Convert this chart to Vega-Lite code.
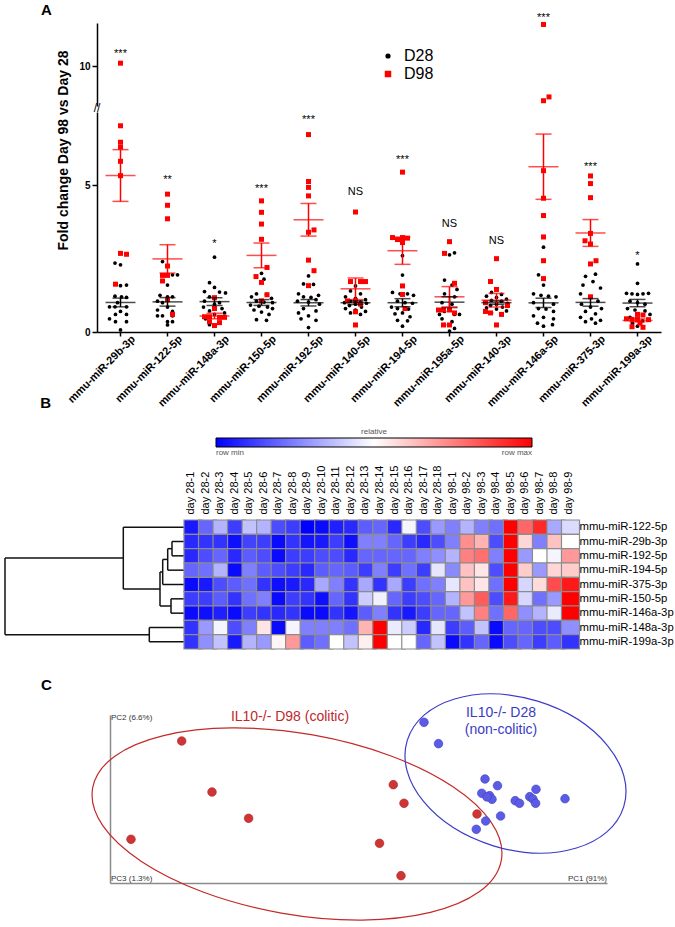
{
"$schema":"https://vega.github.io/schema/vega-lite/v6.json",
"background":"white",
"padding":{"left":4,"top":3,"right":0,"bottom":0},
"config":{"view":{"stroke":null},"font":"Liberation Sans","axis":{"labelFont":"Liberation Sans","titleFont":"Liberation Sans","grid":false},"legend":{"labelFont":"Liberation Sans","titleFont":"Liberation Sans"},"title":{"font":"Liberation Sans","color":"black"}},
"datasets":{
"a":[
{"m":"mmu-miR-29b-3p","g":"D28","v":[2.35,2.29,1.6,1.58,1.22,1.2,1.18,1.0,0.86,0.86,0.86,0.7,0.6,0.6,0.45,0.35,0.35,0.07],"s":[-1.1,0,1.2,0,-1.1,0.2,1.2,-0.6,-2.2,-1.1,1.2,0,-1,1.2,-2.2,-1,1.2,0]},
{"m":"mmu-miR-29b-3p","g":"D98","v":[10.1,7.03,6.47,6.3,5.82,5.33,2.68,2.65,1.63],"s":[0,0,0,0,0,0,0,1.2,-1]},
{"m":"mmu-miR-122-5p","g":"D28","v":[2.4,1.95,1.95,1.6,1.25,1.2,1.2,1.05,1.0,0.85,0.75,0.7,0.55,0.55,0.55,0.35,0.35,0.24],"s":[-1,1,2,0,-1.5,0,1,-2,-1,0,-2,1,-2,-1,1,0,1,0]},
{"m":"mmu-miR-122-5p","g":"D98","v":[4.7,4.32,3.86,2.25,1.93,1.93,1.74,1.1,0.6],"s":[0,0,0,0,-1,0,-1,0,1]},
{"m":"mmu-miR-148a-3p","g":"D28","v":[2.55,1.68,1.52,1.38,1.36,1.33,1.2,1.05,1.0,0.95,0.85,0.8,0.72,0.65,0.6,0.45,0.3,0.25],"s":[0,-1,0,-2,1,2.2,-1,-2,1,0,-2.2,1.5,-1,2,0,-1.8,1,-1]},
{"m":"mmu-miR-148a-3p","g":"D98","v":[1.17,0.8,0.52,0.52,0.5,0.5,0.35,0.32,0.22],"s":[0,0,-2,-1,1,2,-1,1,0]},
{"m":"mmu-miR-150-5p","g":"D28","v":[2.0,1.8,1.3,1.28,1.2,1.15,1.05,1.02,1.0,0.92,0.88,0.85,0.8,0.75,0.68,0.6,0.42,0.4],"s":[0,0.5,-1,1,-2,2,-1,0.5,2.2,-2.2,-0.5,1.2,2.2,-1.5,0,1.5,-1,1]},
{"m":"mmu-miR-150-5p","g":"D98","v":[4.47,4.08,3.68,3.16,2.2,1.89,1.69,1.27,1.06],"s":[0,0,0,0,1.1,-1.1,0,1.1,0]},
{"m":"mmu-miR-192-5p","g":"D28","v":[1.91,1.64,1.62,1.3,1.25,1.2,1.18,1.1,1.05,1.02,0.95,0.8,0.72,0.65,0.55,0.45,0.4,0.15],"s":[0,-1,1,-2,2,-1,0.5,1.5,-2.2,0,2.2,-1,1.5,-2,0,-1.5,1.5,0]},
{"m":"mmu-miR-192-5p","g":"D98","v":[6.73,5.13,4.93,4.64,3.48,3.4,2.45,2.09,1.58],"s":[0,0,0,0,1.1,0,0,1.1,0]},
{"m":"mmu-miR-140-5p","g":"D28","v":[1.57,1.4,1.3,1.2,1.15,1.1,1.05,1.02,1.0,0.98,0.95,0.9,0.85,0.8,0.75,0.7,0.65,0.6],"s":[0,-1,1,-2,0,2,-1,1,-2.2,2.2,0,-1.2,1.2,-2,0,2,-1,1]},
{"m":"mmu-miR-140-5p","g":"D98","v":[4.09,1.72,1.72,1.72,1.06,1.06,0.95,0.69,0.24],"s":[0,-1,1,2,-1.6,0,1,0,0]},
{"m":"mmu-miR-194-5p","g":"D28","v":[2.6,1.94,1.35,1.3,1.3,1.25,1.05,1.0,0.98,0.85,0.8,0.78,0.62,0.65,0.52,0.4,0.38,0.2],"s":[0,0,-2,-0.5,1,2.2,-1,0.5,2,-2.2,-1,1.2,-1.5,0,1.5,-1,1,0]},
{"m":"mmu-miR-194-5p","g":"D98","v":[5.45,3.22,3.15,3.22,3.2,3.05,1.57,1.28,0.8],"s":[0,-2,-1,0,1,0,0,0,0.5]},
{"m":"mmu-miR-195a-5p","g":"D28","v":[2.7,2.63,1.77,1.6,1.45,1.3,1.2,1.0,0.95,0.6,0.6,0.7,0.6,0.45,0.35,0.25,0.12,0.03],"s":[1,0,-1,0.5,1.5,-1,1,-1.5,0.5,-2,2,-1,1,-1.5,0.5,-1,1,0]},
{"m":"mmu-miR-195a-5p","g":"D98","v":[3.08,2.68,1.66,0.75,0.75,0.75,0.65,0.24,0.24],"s":[0,-1,1,-2.2,-1.2,0,1,-1.2,0]},
{"m":"mmu-miR-140-3p","g":"D28","v":[1.45,1.35,1.28,1.22,1.18,1.12,1.08,1.05,1.02,0.98,0.95,0.9,0.85,0.82,0.78,0.72,0.65,0.6],"s":[0,-1,1,-2,0,2,-1,1,-2.2,2.2,0,-1.2,1.2,-2,0,2,-1,1]},
{"m":"mmu-miR-140-3p","g":"D98","v":[2.5,1.72,1.45,1.0,0.9,0.7,0.65,0.6,0.24],"s":[0,-1.2,0,-2.2,2.2,-2.2,-1.2,1,0]},
{"m":"mmu-miR-146a-5p","g":"D28","v":[2.89,1.95,1.6,1.3,1.25,1.22,1.2,1.0,0.95,0.8,0.78,0.7,0.55,0.5,0.45,0.3,0.25,0.2],"s":[0,-1,0,-2,-0.5,1,2.5,-2,2,-1,0.5,2,-2,0,2,-1.2,1.8,0]},
{"m":"mmu-miR-146a-5p","g":"D98","v":[11.42,8.95,8.82,5.5,4.56,3.97,3.24,2.43,1.82],"s":[0,1.1,0,0,0,0,0,0,0]},
{"m":"mmu-miR-375-3p","g":"D28","v":[1.97,1.9,1.72,1.6,1.5,1.3,1.2,1.05,0.95,0.85,0.8,0.7,0.62,0.5,0.45,0.4,0.35,0.3],"s":[1,-1,0.5,-1.5,2,-2,0,1.5,-1.8,0,2.2,-1,1,-2,0.2,2,-1,1]},
{"m":"mmu-miR-375-3p","g":"D98","v":[5.32,5.06,4.58,3.36,3.11,3.0,2.43,2.32,1.2],"s":[0,0,0,0,-1.1,0,1.1,0,0]},
{"m":"mmu-miR-199a-3p","g":"D28","v":[2.32,1.66,1.32,1.3,1.28,1.3,1.32,1.05,1.0,0.95,0.8,0.75,0.72,0.6,0.5,0.38,0.3,0.2],"s":[0,0,-2.2,-1.1,0,1.1,2.2,-1.5,0,1.5,-2,-0.5,1.5,2.5,-1.5,1,-1,0]},
{"m":"mmu-miR-199a-3p","g":"D98","v":[0.6,0.58,0.45,0.43,0.43,0.42,0.3,0.18,0.16],"s":[0,1.1,-2.2,-1.1,0,2.2,0.5,-1.1,1.1]}
],
"ann":[
{"m":"mmu-miR-29b-3p","t":"***","y":10.52},
{"m":"mmu-miR-122-5p","t":"**","y":5.27},
{"m":"mmu-miR-148a-3p","t":"*","y":3.11},
{"m":"mmu-miR-150-5p","t":"***","y":4.98},
{"m":"mmu-miR-192-5p","t":"***","y":7.32},
{"m":"mmu-miR-140-5p","t":"NS","y":4.76},
{"m":"mmu-miR-194-5p","t":"***","y":5.95},
{"m":"mmu-miR-195a-5p","t":"NS","y":3.67},
{"m":"mmu-miR-140-3p","t":"NS","y":3.11},
{"m":"mmu-miR-146a-5p","t":"***","y":11.75},
{"m":"mmu-miR-375-3p","t":"***","y":5.73},
{"m":"mmu-miR-199a-3p","t":"*","y":2.68}
],
"hm":[
{"r":"mmu-miR-122-5p","c":["day 28-1","day 28-2","day 28-3","day 28-4","day 28-5","day 28-6","day 28-7","day 28-8","day 28-9","day 28-10","day 28-11","day 28-12","day 28-13","day 28-14","day 28-15","day 28-16","day 28-17","day 28-18","day 98-1","day 98-2","day 98-3","day 98-4","day 98-5","day 98-6","day 98-7","day 98-8","day 98-9"],"v":[0.05,0.2,0.35,0.12,0.38,0.35,0.15,0.12,0.0,0.02,0.06,0.08,0.18,0.2,0.08,0.48,0.15,0.3,0.25,0.35,0.25,0.22,1.0,0.8,0.92,0.33,0.43]},
{"r":"mmu-miR-29b-3p","c":["day 28-1","day 28-2","day 28-3","day 28-4","day 28-5","day 28-6","day 28-7","day 28-8","day 28-9","day 28-10","day 28-11","day 28-12","day 28-13","day 28-14","day 28-15","day 28-16","day 28-17","day 28-18","day 98-1","day 98-2","day 98-3","day 98-4","day 98-5","day 98-6","day 98-7","day 98-8","day 98-9"],"v":[0.08,0.1,0.1,0.03,0.13,0.12,0.02,0.1,0.04,0.05,0.12,0.03,0.25,0.25,0.2,0.12,0.08,0.15,0.25,0.72,0.65,0.15,1.0,0.58,0.25,0.62,0.5]},
{"r":"mmu-miR-192-5p","c":["day 28-1","day 28-2","day 28-3","day 28-4","day 28-5","day 28-6","day 28-7","day 28-8","day 28-9","day 28-10","day 28-11","day 28-12","day 28-13","day 28-14","day 28-15","day 28-16","day 28-17","day 28-18","day 98-1","day 98-2","day 98-3","day 98-4","day 98-5","day 98-6","day 98-7","day 98-8","day 98-9"],"v":[0.08,0.15,0.2,0.08,0.18,0.15,0.02,0.12,0.12,0.15,0.15,0.08,0.2,0.2,0.2,0.2,0.25,0.28,0.35,0.75,0.78,0.25,1.0,0.3,0.5,0.48,0.7]},
{"r":"mmu-miR-194-5p","c":["day 28-1","day 28-2","day 28-3","day 28-4","day 28-5","day 28-6","day 28-7","day 28-8","day 28-9","day 28-10","day 28-11","day 28-12","day 28-13","day 28-14","day 28-15","day 28-16","day 28-17","day 28-18","day 98-1","day 98-2","day 98-3","day 98-4","day 98-5","day 98-6","day 98-7","day 98-8","day 98-9"],"v":[0.2,0.22,0.35,0.02,0.25,0.18,0.15,0.12,0.08,0.18,0.2,0.18,0.12,0.25,0.12,0.22,0.12,0.45,0.27,0.62,0.55,0.15,1.0,0.6,0.3,0.58,0.6]},
{"r":"mmu-miR-375-3p","c":["day 28-1","day 28-2","day 28-3","day 28-4","day 28-5","day 28-6","day 28-7","day 28-8","day 28-9","day 28-10","day 28-11","day 28-12","day 28-13","day 28-14","day 28-15","day 28-16","day 28-17","day 28-18","day 98-1","day 98-2","day 98-3","day 98-4","day 98-5","day 98-6","day 98-7","day 98-8","day 98-9"],"v":[0.02,0.05,0.15,0.18,0.22,0.1,0.03,0.05,0.08,0.33,0.25,0.1,0.33,0.1,0.33,0.12,0.22,0.25,0.45,0.62,0.55,0.22,1.0,0.42,0.57,0.85,0.95]},
{"r":"mmu-miR-150-5p","c":["day 28-1","day 28-2","day 28-3","day 28-4","day 28-5","day 28-6","day 28-7","day 28-8","day 28-9","day 28-10","day 28-11","day 28-12","day 28-13","day 28-14","day 28-15","day 28-16","day 28-17","day 28-18","day 98-1","day 98-2","day 98-3","day 98-4","day 98-5","day 98-6","day 98-7","day 98-8","day 98-9"],"v":[0.12,0.12,0.18,0.1,0.22,0.25,0.02,0.12,0.1,0.03,0.2,0.1,0.4,0.47,0.2,0.12,0.15,0.2,0.35,0.7,0.82,0.15,0.95,0.42,0.22,0.3,1.0]},
{"r":"mmu-miR-146a-3p","c":["day 28-1","day 28-2","day 28-3","day 28-4","day 28-5","day 28-6","day 28-7","day 28-8","day 28-9","day 28-10","day 28-11","day 28-12","day 28-13","day 28-14","day 28-15","day 28-16","day 28-17","day 28-18","day 98-1","day 98-2","day 98-3","day 98-4","day 98-5","day 98-6","day 98-7","day 98-8","day 98-9"],"v":[0.02,0.03,0.06,0.02,0.12,0.1,0.08,0.1,0.02,0.02,0.1,0.04,0.18,0.25,0.1,0.05,0.12,0.2,0.2,0.38,0.75,0.22,0.8,0.28,0.35,0.46,1.0]},
{"r":"mmu-miR-148a-3p","c":["day 28-1","day 28-2","day 28-3","day 28-4","day 28-5","day 28-6","day 28-7","day 28-8","day 28-9","day 28-10","day 28-11","day 28-12","day 28-13","day 28-14","day 28-15","day 28-16","day 28-17","day 28-18","day 98-1","day 98-2","day 98-3","day 98-4","day 98-5","day 98-6","day 98-7","day 98-8","day 98-9"],"v":[0.1,0.3,0.48,0.15,0.25,0.55,0.02,0.48,0.25,0.25,0.25,0.22,0.65,1.0,0.46,0.4,0.08,0.45,0.12,0.18,0.38,0.02,0.2,0.2,0.15,0.15,0.28]},
{"r":"mmu-miR-199a-3p","c":["day 28-1","day 28-2","day 28-3","day 28-4","day 28-5","day 28-6","day 28-7","day 28-8","day 28-9","day 28-10","day 28-11","day 28-12","day 28-13","day 28-14","day 28-15","day 28-16","day 28-17","day 28-18","day 98-1","day 98-2","day 98-3","day 98-4","day 98-5","day 98-6","day 98-7","day 98-8","day 98-9"],"v":[0.1,0.28,0.38,0.05,0.35,0.3,0.52,0.7,0.18,0.22,0.5,0.38,0.53,1.0,0.5,0.5,0.2,0.38,0.02,0.1,0.2,0.02,0.15,0.2,0.12,0.18,0.1]}
],
"dend":[
{"x1":8.95,"x2":8.95,"y1":2.656,"y2":8.0},
{"x1":8.95,"x2":3.035,"y1":2.656,"y2":2.656},
{"x1":8.95,"x2":1.735,"y1":8.0,"y2":8.0},
{"x1":3.035,"x2":3.035,"y1":0.5,"y2":4.8125},
{"x1":3.035,"x2":0,"y1":0.5,"y2":0.5},
{"x1":3.035,"x2":1.2,"y1":4.8125,"y2":4.8125},
{"x1":1.2,"x2":1.2,"y1":3.625,"y2":6.0},
{"x1":1.2,"x2":1.065,"y1":3.625,"y2":3.625},
{"x1":1.2,"x2":0.65,"y1":6.0,"y2":6.0},
{"x1":1.065,"x2":1.065,"y1":2.75,"y2":4.5},
{"x1":1.065,"x2":0.815,"y1":2.75,"y2":2.75},
{"x1":1.065,"x2":0,"y1":4.5,"y2":4.5},
{"x1":0.815,"x2":0.815,"y1":2.0,"y2":3.5},
{"x1":0.815,"x2":0.6,"y1":2.0,"y2":2.0},
{"x1":0.815,"x2":0,"y1":3.5,"y2":3.5},
{"x1":0.6,"x2":0.6,"y1":1.5,"y2":2.5},
{"x1":0.6,"x2":0,"y1":1.5,"y2":1.5},
{"x1":0.6,"x2":0,"y1":2.5,"y2":2.5},
{"x1":0.65,"x2":0.65,"y1":5.5,"y2":6.5},
{"x1":0.65,"x2":0,"y1":5.5,"y2":5.5},
{"x1":0.65,"x2":0,"y1":6.5,"y2":6.5},
{"x1":1.735,"x2":1.735,"y1":7.5,"y2":8.5},
{"x1":1.735,"x2":0,"y1":7.5,"y2":7.5},
{"x1":1.735,"x2":0,"y1":8.5,"y2":8.5}
],
"pca":[
{"grp":"D98","x":-21.93,"y":5.9},{"grp":"D98","x":-18.9,"y":0.8},{"grp":"D98","x":-15.24,"y":-1.83},{"grp":"D98","x":-27.0,"y":-3.93},{"grp":"D98","x":-0.77,"y":1.53},{"grp":"D98","x":0.3,"y":-0.33},{"grp":"D98","x":-2.15,"y":-4.33},{"grp":"D98","x":0.0,"y":-7.57},{"grp":"D98","x":7.6,"y":-1.4},
{"grp":"D28","x":2.3,"y":7.77},{"grp":"D28","x":3.75,"y":5.63},{"grp":"D28","x":8.4,"y":2.1},{"grp":"D28","x":9.65,"y":1.43},{"grp":"D28","x":8.08,"y":0.67},{"grp":"D28","x":8.86,"y":0.43},{"grp":"D28","x":9.1,"y":0.07},{"grp":"D28","x":11.42,"y":-0.07},{"grp":"D28","x":11.85,"y":-0.33},{"grp":"D28","x":12.87,"y":0.33},{"grp":"D28","x":13.19,"y":0.1},{"grp":"D28","x":13.5,"y":1.07},{"grp":"D28","x":13.46,"y":-0.33},{"grp":"D28","x":16.4,"y":0.13},{"grp":"D28","x":9.96,"y":-1.6},{"grp":"D28","x":8.47,"y":-2.1},{"grp":"D28","x":7.53,"y":-2.93},{"grp":"D28","x":8.6,"y":0.3}
],
"ell":[{"grp":"D98","x":-10.4,"y":-2.4},{"grp":"D28","x":11.45,"y":2.65}]
},
"bounds":"flush",
"spacing":497,
"resolve":{"scale":{"color":"independent","shape":"independent","size":"independent"},"legend":{"color":"independent","shape":"independent"}},
"vconcat":[
{"bounds":"flush","spacing":0,"hconcat":[
 {"width":92,"height":309,"data":{"values":[]},"mark":"point","title":{"text":"A","anchor":"start","dx":36,"offset":5,"fontSize":15,"fontWeight":"bold"}},
 {"bounds":"flush","spacing":6,"vconcat":[
  {"width":564,"height":83,
   "layer":[
    {"data":{"name":"a"},"transform":[{"flatten":["v","s"]},{"filter":"datum.v >= 8"}],
     "mark":{"type":"point","filled":true,"opacity":1},
     "encoding":{
      "x":{"field":"m","type":"nominal","scale":{"domain":["mmu-miR-29b-3p","mmu-miR-122-5p","mmu-miR-148a-3p","mmu-miR-150-5p","mmu-miR-192-5p","mmu-miR-140-5p","mmu-miR-194-5p","mmu-miR-195a-5p","mmu-miR-140-3p","mmu-miR-146a-5p","mmu-miR-375-3p","mmu-miR-199a-3p"],"paddingInner":0,"paddingOuter":0},"axis":null},
      "xOffset":{"field":"s","type":"quantitative","scale":{"domain":[-4.7,4.7],"nice":false,"zero":false}},
      "y":{"field":"v","type":"quantitative","scale":{"domain":[8.64,11.47],"nice":false,"zero":false},"axis":{"values":[10],"title":null,"labelFontWeight":"bold","labelFontSize":10,"labelColor":"black","tickSize":5,"tickColor":"black","tickWidth":1.5,"domainColor":"black","domainWidth":1.5,"labelPadding":2}},
      "color":{"field":"g","type":"nominal","scale":{"domain":["D28","D98"],"range":["#000000","#ff0000"]},"legend":{"orient":"none","legendX":375,"legendY":25,"title":null,"labelFontSize":16,"symbolSize":22,"labelOffset":8,"rowPadding":2}},
      "shape":{"field":"g","type":"nominal","scale":{"domain":["D28","D98"],"range":["circle","square"]},"legend":{"orient":"none","legendX":375,"legendY":25,"title":null,"labelFontSize":16,"symbolSize":22,"labelOffset":8,"rowPadding":2}},
      "size":{"field":"g","type":"nominal","scale":{"domain":["D28","D98"],"range":[14,25]},"legend":null}
     }},
    {"data":{"name":"ann"},"transform":[{"filter":"datum.y >= 8"}],
     "mark":{"type":"text","fontSize":11,"baseline":"middle","dy":3,"color":"black"},
     "encoding":{"x":{"field":"m","type":"nominal"},"y":{"field":"y","type":"quantitative"},"text":{"field":"t"}}}
   ]},
  {"width":564,"height":220,
   "layer":[
    {"data":{"name":"a"},"transform":[{"flatten":["v","s"]},{"filter":"datum.v < 8"}],
     "mark":{"type":"point","filled":true,"opacity":1},
     "encoding":{
      "x":{"field":"m","type":"nominal","scale":{"domain":["mmu-miR-29b-3p","mmu-miR-122-5p","mmu-miR-148a-3p","mmu-miR-150-5p","mmu-miR-192-5p","mmu-miR-140-5p","mmu-miR-194-5p","mmu-miR-195a-5p","mmu-miR-140-3p","mmu-miR-146a-5p","mmu-miR-375-3p","mmu-miR-199a-3p"],"paddingInner":0,"paddingOuter":0},"axis":{"orient":"bottom","labelAngle":-45,"labelAlign":"right","labelBaseline":"top","labelOffset":9,"labelPadding":-3,"labelFontWeight":"bold","labelFontSize":11,"labelColor":"black","tickSize":4,"tickColor":"black","tickWidth":1.5,"domainColor":"black","domainWidth":1.5,"title":null,"labelLimit":200}},
      "xOffset":{"field":"s","type":"quantitative","scale":{"domain":[-4.7,4.7],"nice":false,"zero":false}},
      "y":{"field":"v","type":"quantitative","scale":{"domain":[0,7.5],"nice":false},"axis":{"values":[0,5],"title":"Fold change Day 98 vs Day 28","titleFontSize":14,"titleFontWeight":"bold","titleColor":"black","titleX":-27,"titleY":38,"labelFontWeight":"bold","labelFontSize":10,"labelColor":"black","tickSize":5,"tickColor":"black","tickWidth":1.5,"domainColor":"black","domainWidth":1.5,"labelPadding":2}},
      "color":{"field":"g","type":"nominal","scale":{"domain":["D28","D98"],"range":["#000000","#ff0000"]},"legend":{"orient":"none","legendX":375,"legendY":25,"title":null,"labelFontSize":16,"symbolSize":22,"labelOffset":8,"rowPadding":2}},
      "shape":{"field":"g","type":"nominal","scale":{"domain":["D28","D98"],"range":["circle","square"]},"legend":{"orient":"none","legendX":375,"legendY":25,"title":null,"labelFontSize":16,"symbolSize":22,"labelOffset":8,"rowPadding":2}},
      "size":{"field":"g","type":"nominal","scale":{"domain":["D28","D98"],"range":[14,25]},"legend":null}
     }},
    {"data":{"name":"a"},
     "transform":[{"flatten":["v","s"]},{"aggregate":[{"op":"mean","field":"v","as":"mean"},{"op":"stderr","field":"v","as":"se"}],"groupby":["m","g"]},{"calculate":"datum.mean - datum.se","as":"lo"},{"calculate":"datum.mean + datum.se","as":"hi"}],
     "layer":[
      {"mark":{"type":"tick","size":30,"thickness":1.5},"encoding":{"x":{"field":"m","type":"nominal"},"y":{"field":"mean","type":"quantitative"},"color":{"field":"g","type":"nominal"}}},
      {"mark":{"type":"rule","strokeWidth":1.5},"encoding":{"x":{"field":"m","type":"nominal"},"y":{"field":"lo","type":"quantitative"},"y2":{"field":"hi"},"color":{"field":"g","type":"nominal"}}},
      {"mark":{"type":"tick","size":16,"thickness":1.5},"encoding":{"x":{"field":"m","type":"nominal"},"y":{"field":"lo","type":"quantitative"},"color":{"field":"g","type":"nominal"}}},
      {"mark":{"type":"tick","size":16,"thickness":1.5},"encoding":{"x":{"field":"m","type":"nominal"},"y":{"field":"hi","type":"quantitative"},"color":{"field":"g","type":"nominal"}}}
     ]},
    {"data":{"name":"ann"},"transform":[{"filter":"datum.y < 8 && datum.t != 'NS'"}],
     "mark":{"type":"text","fontSize":11,"baseline":"middle","dy":3,"color":"black"},
     "encoding":{"x":{"field":"m","type":"nominal"},"y":{"field":"y","type":"quantitative"},"text":{"field":"t"}}},
    {"data":{"name":"ann"},"transform":[{"filter":"datum.y < 8 && datum.t == 'NS'"}],
     "mark":{"type":"text","fontSize":11,"baseline":"middle","color":"black"},
     "encoding":{"x":{"field":"m","type":"nominal"},"y":{"field":"y","type":"quantitative"},"text":{"field":"t"}}},
    {"data":{"values":[{"m":"mmu-miR-29b-3p","s":-4.7,"y":7.62,"t":"//"}]},
     "mark":{"type":"text","fontSize":12,"baseline":"middle","align":"center","color":"black"},
     "encoding":{"x":{"field":"m","type":"nominal"},"xOffset":{"field":"s","type":"quantitative"},"y":{"field":"y","type":"quantitative"},"text":{"field":"t"}}}
   ]}
 ]}
]},
{"bounds":"flush","spacing":195,"vconcat":[
 {"bounds":"flush","spacing":0,"hconcat":[
  {"width":179,"height":129,"title":{"text":"B","anchor":"start","dx":36,"offset":109,"fontSize":15,"fontWeight":"bold"},
   "data":{"name":"dend"},
   "mark":{"type":"rule","strokeWidth":1.5,"color":"#111111"},
   "encoding":{
    "x":{"field":"x1","type":"quantitative","scale":{"domain":[0,8.95],"reverse":true,"nice":false},"axis":null},
    "x2":{"field":"x2"},
    "y":{"field":"y1","type":"quantitative","scale":{"domain":[0,9],"reverse":true,"nice":false},"axis":null},
    "y2":{"field":"y2"}
   }},
  {"width":392,"height":129,
   "data":{"name":"hm"},
   "transform":[{"flatten":["c","v"]}],
   "mark":{"type":"rect","stroke":"#8c8c8c","strokeWidth":1.2},
   "encoding":{
    "x":{"field":"c","type":"nominal","scale":{"domain":["day 28-1","day 28-2","day 28-3","day 28-4","day 28-5","day 28-6","day 28-7","day 28-8","day 28-9","day 28-10","day 28-11","day 28-12","day 28-13","day 28-14","day 28-15","day 28-16","day 28-17","day 28-18","day 98-1","day 98-2","day 98-3","day 98-4","day 98-5","day 98-6","day 98-7","day 98-8","day 98-9"],"paddingInner":0,"paddingOuter":0},"axis":{"orient":"top","labelAngle":-90,"labelAlign":"left","labelBaseline":"middle","ticks":false,"domain":false,"labelPadding":6,"labelFontSize":11,"labelColor":"black","title":null}},
    "y":{"field":"r","type":"nominal","scale":{"domain":["mmu-miR-122-5p","mmu-miR-29b-3p","mmu-miR-192-5p","mmu-miR-194-5p","mmu-miR-375-3p","mmu-miR-150-5p","mmu-miR-146a-3p","mmu-miR-148a-3p","mmu-miR-199a-3p"],"paddingInner":0,"paddingOuter":0},"axis":{"orient":"right","ticks":false,"domain":false,"labelPadding":3,"labelFontSize":11.3,"labelColor":"black","title":null}},
    "color":{"field":"v","type":"quantitative","scale":{"domain":[0,0.5,1],"range":["#0000ff","#ffffff","#ff0000"],"interpolate":"rgb"},"legend":{"orient":"none","legendX":211,"legendY":-92,"direction":"horizontal","gradientLength":316,"gradientThickness":9,"gradientStrokeColor":"#000000","gradientStrokeWidth":1,"title":"relative","titleFontSize":8,"titleFontWeight":"normal","titleColor":"#555555","titleAnchor":"middle","titlePadding":2,"values":[0,1],"labelExpr":"datum.value < 0.5 ? 'row min' : 'row max'","labelFontSize":8,"labelColor":"#555555","labelOffset":2}}
   }}
 ]},
 {"bounds":"flush","spacing":0,"hconcat":[
  {"width":105,"height":168,"data":{"values":[]},"mark":"point","title":{"text":"C","anchor":"start","dx":36,"offset":22,"fontSize":15,"fontWeight":"bold"}},
  {"width":497,"height":168,
   "encoding":{
    "x":{"field":"x","type":"quantitative","scale":{"domain":[-29.1,20.6],"nice":false,"zero":false},"axis":{"domainColor":"#8a8a8a","domainWidth":1.5,"ticks":false,"labels":false,"title":null,"grid":false}},
    "y":{"field":"y","type":"quantitative","scale":{"domain":[-8.3,8.5],"nice":false,"zero":false},"axis":{"domainColor":"#8a8a8a","domainWidth":1.5,"ticks":false,"labels":false,"title":null,"grid":false}}
   },
   "layer":[
    {"data":{"name":"ell"},"transform":[{"filter":"datum.grp == 'D98'"}],"mark":{"type":"point","shape":"M-1,0C-1,-0.2406,-0.5523,-0.4357,0,-0.4357C0.5523,-0.4357,1,-0.2406,1,0C1,0.2406,0.5523,0.4357,0,0.4357C-0.5523,0.4357,-1,0.2406,-1,0Z","size":172225,"angle":10,"filled":false,"color":"#c42a2a","strokeWidth":1.2,"opacity":1}},
    {"data":{"name":"ell"},"transform":[{"filter":"datum.grp == 'D28'"}],"mark":{"type":"point","shape":"M-1,0C-1,-0.3689,-0.5523,-0.668,0,-0.668C0.5523,-0.668,1,-0.3689,1,0C1,0.3689,0.5523,0.668,0,0.668C-0.5523,0.668,-1,0.3689,-1,0Z","size":51257,"angle":17,"filled":false,"color":"#3c3cc8","strokeWidth":1.2,"opacity":1}},
    {"data":{"name":"pca"},"transform":[{"filter":"datum.grp == 'D98'"}],"mark":{"type":"circle","size":75,"color":"#cf3535","stroke":"#a82424","strokeWidth":0.6,"opacity":1}},
    {"data":{"name":"pca"},"transform":[{"filter":"datum.grp == 'D28'"}],"mark":{"type":"circle","size":75,"color":"#5b5be6","stroke":"#4040c0","strokeWidth":0.6,"opacity":1}},
    {"data":{"values":[{"x":-11.1,"y":8.3,"t":"IL10-/- D98 (colitic)"}]},"mark":{"type":"text","fontSize":14,"color":"#c0282d","align":"center","baseline":"middle"},"encoding":{"text":{"field":"t"}}},
    {"data":{"values":[{"x":10.0,"y":8.73,"t":"IL10-/- D28"},{"x":10.0,"y":7.0,"t":"(non-colitic)"}]},"mark":{"type":"text","fontSize":14,"color":"#3b3bc4","align":"center","baseline":"middle"},"encoding":{"text":{"field":"t"}}},
    {"data":{"values":[{"x":-29.0,"y":8.2,"t":"PC2 (6.6%)"},{"x":-29.0,"y":-7.9,"t":"PC3 (1.3%)"}]},"mark":{"type":"text","fontSize":8,"color":"#333333","align":"left","baseline":"middle"},"encoding":{"text":{"field":"t"}}},
    {"data":{"values":[{"x":20.6,"y":-7.9,"t":"PC1 (91%)"}]},"mark":{"type":"text","fontSize":8,"color":"#333333","align":"right","baseline":"middle"},"encoding":{"text":{"field":"t"}}}
   ]}
 ]}
]}
]
}
